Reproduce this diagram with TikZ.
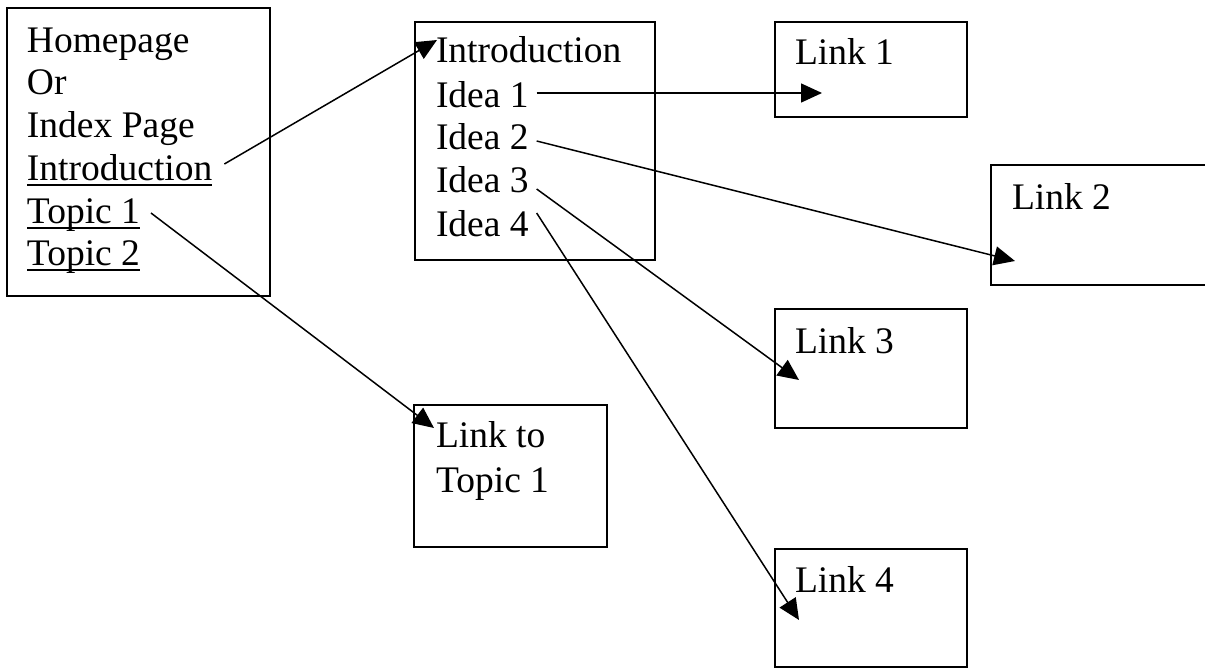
\documentclass[tikz,border=0pt]{standalone}
\usepackage{fontspec}
\setmainfont{Liberation Serif}
\usetikzlibrary{arrows.meta}
\begin{document}
\begin{tikzpicture}[x=1pt,y=-1pt,
  box/.style={draw, line width=1.7pt, inner sep=0pt, outer sep=0pt, rectangle},
  txt/.style={anchor=base west, inner sep=0pt, outer sep=0pt, font=\fontsize{37.5}{42}\selectfont},
  conn/.style={line width=1.5pt, -{Triangle[length=21pt,width=19pt]}},
  ul/.style={line width=1.8pt}]
\useasboundingbox (0,0) rectangle (1205,669);
% boxes
\node[box, minimum width=263pt, minimum height=288pt] (home) at (138.5,152) {};
\node[box, minimum width=240pt, minimum height=238pt] (introbox) at (535,141) {};
\node[box, minimum width=192pt, minimum height=95pt] (link1) at (871,69.5) {};
\node[box, minimum width=229pt, minimum height=120pt] (link2) at (1105.5,225) {};
\node[box, minimum width=192pt, minimum height=119pt] (link3) at (871,368.5) {};
\node[box, minimum width=193pt, minimum height=142pt] (linkt) at (510.5,476) {};
\node[box, minimum width=192pt, minimum height=118pt] (link4) at (871,608) {};
% homepage text
\node[txt] (hp) at (27,53) {Homepage};
\node[txt] (or) at (27,95) {Or};
\node[txt] (idx) at (27,137) {Index Page};
\node[txt] (intro) at (27,180) {Introduction};
\node[txt] (t1) at (27,223) {Topic 1};
\node[txt] (t2) at (27,265) {Topic 2};
\draw[ul] ([yshift=-5pt]intro.base west) -- ([yshift=-5pt]intro.base east);
\draw[ul] ([yshift=-5pt]t1.base west) -- ([yshift=-5pt]t1.base east);
\draw[ul] ([yshift=-5pt]t2.base west) -- ([yshift=-5pt]t2.base east);
% introduction page text
\node[txt] (i0) at (436,63) {Introduction};
\node[txt] (i1) at (436,107) {Idea 1};
\node[txt] (i2) at (436,149) {Idea 2};
\node[txt] (i3) at (436,192) {Idea 3};
\node[txt] (i4) at (436,236) {Idea 4};
% link texts
\node[txt] (l1) at (795,65) {Link 1};
\node[txt] (l2) at (1012,209) {Link 2};
\node[txt] (l3) at (795,353) {Link 3};
\node[txt] (lta) at (436,447) {Link to};
\node[txt] (ltb) at (436,492) {Topic 1};
\node[txt] (l4) at (795,592) {Link 4};
% arrow tips
\coordinate (tipA) at (437,40);
\coordinate (tipB) at (822,93);
\coordinate (tipC) at (1015,261);
\coordinate (tipD) at (799,380);
\coordinate (tipE) at (799,620);
\coordinate (tipF) at (434,428);
% connectors
\draw[conn] ([xshift=12pt,yshift=16pt]intro.base east) -- (tipA);
\draw[conn] ([xshift=8pt,yshift=14pt]i1.base east) -- (tipB);
\draw[conn] ([xshift=8pt,yshift=8pt]i2.base east) -- (tipC);
\draw[conn] ([xshift=8pt,yshift=3pt]i3.base east) -- (tipD);
\draw[conn] ([xshift=8pt,yshift=23pt]i4.base east) -- (tipE);
\draw[conn] ([xshift=11pt,yshift=10pt]t1.base east) -- (tipF);
\end{tikzpicture}
\end{document}
